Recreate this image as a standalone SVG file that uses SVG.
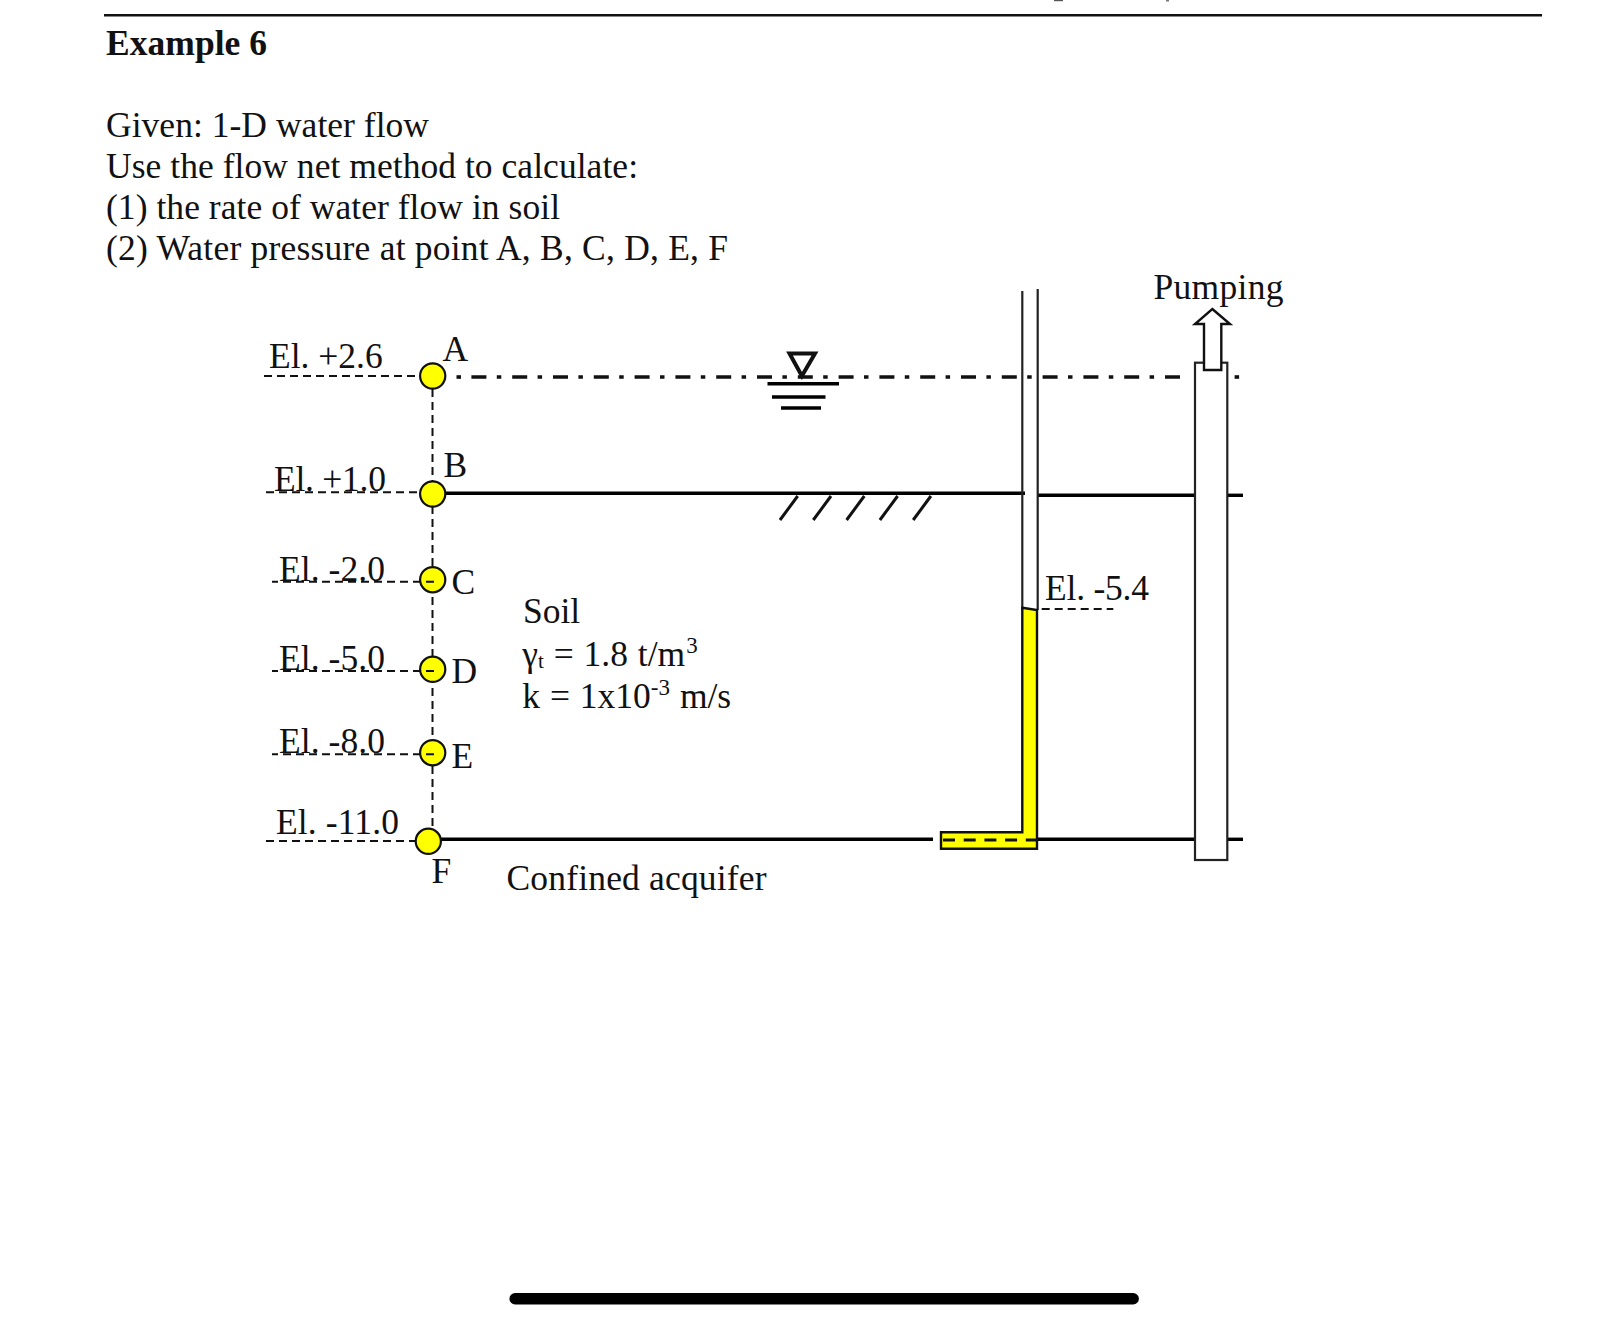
<svg xmlns="http://www.w3.org/2000/svg" width="1604" height="1320" viewBox="0 0 1604 1320">
<style>
text{font-family:"Liberation Serif","Times New Roman",serif;font-size:35.5px;fill:#111}
.b{font-weight:bold}
.dash{fill:none;stroke:#111;stroke-width:2;stroke-dasharray:8 5}
.thick{fill:none;stroke:#000;stroke-width:3.4}
.thin{fill:none;stroke:#222;stroke-width:2.2}
.wl{fill:none;stroke:#111;stroke-width:3.6;stroke-dasharray:15 10.4 4.5 10.9}
.pt{fill:#ffff00;stroke:#111;stroke-width:2.2}
</style>
<rect width="1604" height="1320" fill="#fff"/>
<g id="header">
<line x1="104" y1="15.3" x2="1542" y2="15.3" stroke="#111" stroke-width="2.6"/>
<line x1="1054" y1="0.6" x2="1063" y2="0.6" stroke="#555" stroke-width="1.2"/>
<line x1="1166" y1="0.8" x2="1169" y2="0.8" stroke="#555" stroke-width="1.2"/>
<text class="b" x="106" y="55" textLength="161">Example 6</text>
<text x="106" y="136.5" textLength="323">Given: 1-D water flow</text>
<text x="106" y="177.5" textLength="532">Use the flow net method to calculate:</text>
<text x="106" y="218.5" textLength="454">(1) the rate of water flow in soil</text>
<text x="106" y="259.5" textLength="622">(2) Water pressure at point A, B, C, D, E, F</text>
</g>
<g id="connectors">
<line class="dash" x1="432.5" y1="376" x2="432.5" y2="835"/>
<line class="dash" x1="264" y1="376" x2="420" y2="376"/>
<line class="dash" x1="266" y1="492.3" x2="418" y2="492.3"/>
<line class="dash" x1="266" y1="841" x2="416" y2="841"/>
<line class="wl" x1="471.4" y1="377" x2="1190" y2="377"/>
<rect x="456.5" y="375.2" width="4.5" height="3.6" fill="#111"/>
<line class="thick" x1="432" y1="493.3" x2="1025" y2="493.3"/>
<line class="thick" x1="1037.7" y1="495.3" x2="1195" y2="495.3"/>
<line class="thick" x1="1227" y1="495.3" x2="1243" y2="495.3"/>
<line class="thick" x1="428" y1="839.3" x2="933" y2="839.3"/>
<line class="thick" x1="1037" y1="839.3" x2="1195" y2="839.3"/>
<line class="thick" x1="1227" y1="839.3" x2="1243" y2="839.3"/>
<rect x="1234.6" y="375.2" width="4.5" height="3.6" fill="#111"/>
</g>
<g id="water-table">
<path d="M789.5 353.5H815L801.9 376Z" fill="none" stroke="#111" stroke-width="4"/>
<line class="thick" x1="767.5" y1="383.7" x2="839" y2="383.7"/>
<line class="thick" x1="772" y1="397" x2="825.5" y2="397"/>
<line class="thick" x1="781" y1="408" x2="821" y2="408"/>
</g>
<g id="ground-hatch">
<path d="M797.7 496L780 520M831 496L813.3 520M864.3 496L846.6 520M897.6 496L879.9 520M930.9 496L913.2 520" fill="none" stroke="#111" stroke-width="3"/>
</g>
<g id="standpipe">
<line class="thin" x1="1022.3" y1="291" x2="1022.3" y2="610"/>
<line class="thin" x1="1037.7" y1="289" x2="1037.7" y2="610"/>
<path d="M1022.3 607.7L1037 610V848.7H941V832.3H1022.3Z" fill="#ffff00" stroke="#111" stroke-width="2.4"/>
<line x1="943" y1="840" x2="1037" y2="840" stroke="#111" stroke-width="2.8" stroke-dasharray="12 8.7"/>
<line class="dash" x1="1041.7" y1="609" x2="1113.3" y2="609"/>
<text x="1045" y="600" textLength="104">El. -5.4</text>
</g>
<g id="well">
<rect x="1195" y="362.7" width="32.3" height="497.3" fill="#fff" stroke="#222" stroke-width="2.2"/>
<path d="M1212.3 309L1230 324H1221.3V370H1204V324H1195Z" fill="#fff" stroke="#111" stroke-width="2.4"/>
<text x="1153.5" y="299.3" textLength="130">Pumping</text>
</g>
<g id="point-A"><circle class="pt" cx="432.7" cy="376" r="12.6"/><text x="442.5" y="360.7">A</text><text x="269" y="368">El. +2.6</text></g>
<g id="point-B"><circle class="pt" cx="432.7" cy="494" r="12.6"/><text x="443.5" y="476.7">B</text><text x="274" y="491" textLength="112">El. +1.0</text></g>
<g id="point-C"><circle class="pt" cx="432.7" cy="579.7" r="12.6"/><line class="dash" x1="434" y1="581.7" x2="272" y2="581.7"/><text x="451.5" y="594">C</text><text x="279" y="580.7" textLength="106">El. -2.0</text></g>
<g id="point-D"><circle class="pt" cx="432.7" cy="669.3" r="12.6"/><line class="dash" x1="434" y1="671" x2="272" y2="671"/><text x="451.5" y="683">D</text><text x="279" y="670" textLength="106">El. -5.0</text></g>
<g id="point-E"><circle class="pt" cx="432.7" cy="752.7" r="12.6"/><line class="dash" x1="434" y1="754.3" x2="272" y2="754.3"/><text x="451.5" y="767.7">E</text><text x="279" y="753" textLength="106">El. -8.0</text></g>
<g id="point-F"><circle class="pt" cx="428.3" cy="841.3" r="12.6"/><text x="431.5" y="883">F</text><text x="276" y="834" textLength="123">El. -11.0</text></g>
<g id="soil">
<text x="523" y="623.3">Soil</text>
<text x="522.3" y="665.7" word-spacing="1">γ<tspan font-size="21" dy="2.5">t</tspan><tspan dy="-2.5"> = 1.8 t/m</tspan><tspan font-size="23" dx="1" dy="-13">3</tspan></text>
<text x="522.3" y="708" word-spacing="1">k = 1x10<tspan font-size="23" dy="-13">-3</tspan><tspan dy="13"> m/s</tspan></text>
</g>
<g id="aquifer"><text x="506.5" y="889.5" textLength="260">Confined acquifer</text></g>
<g id="home-bar"><rect x="509.4" y="1293" width="629.5" height="11.5" rx="5.75" fill="#000"/></g>
</svg>
